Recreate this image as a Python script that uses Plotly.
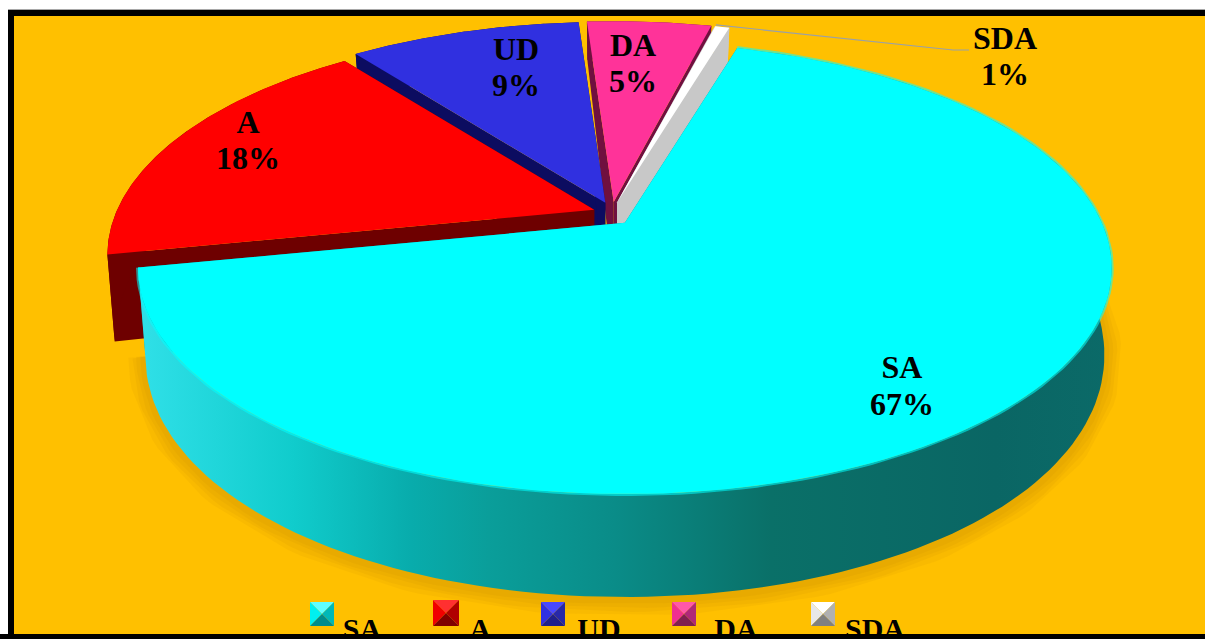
import numpy as np
import plotly.graph_objects as go

categories = ["SA", "A", "UD", "DA", "SDA"]
# slice sizes, the labels show them rounded
shares = [67.3, 17.8, 9.3, 5.0, 0.6]
pct_labels = ["67%", "18%", "9%", "5%", "1%"]
top_colors = ["#00FFFF", "#FF0000", "#3030E0", "#FF3399", "#FFFFFF"]
wall_colors = ["#0B8A8A", "#6E0000", "#0C0C60", "#70103F", "#C8C8C8"]
key_top = ["#60FFFF", "#FF3030", "#4848FF", "#FF58A8", "#FFFFFF"]
key_left = ["#00F0F0", "#F00000", "#3030E0", "#F03090", "#E8E8E8"]
key_right = ["#00B8B8", "#B00000", "#2828A8", "#B02878", "#B0B0B0"]
key_bottom = ["#008C8C", "#800000", "#20208A", "#802050", "#808080"]

# pie geometry, in page pixels
START = 16.3
BASE_X, BASE_Y = 612, 214
RX, RY, PERSP = 477, 217, 0.2
EXPLODE_X, EXPLODE_Y = 19, 12
BOTTOM_SCALE = 0.985
BG = "#FFC000"

angles = np.cumsum([0] + [p * 3.6 for p in shares]) + START


def apex(i):
    mid = np.radians((angles[i] + angles[i + 1]) / 2)
    return BASE_X + EXPLODE_X * np.sin(mid), BASE_Y - EXPLODE_Y * np.cos(mid)


def wall_h(v):
    return 80.9 - 32.5 * v - 10.4 * v * v


def top_pt(i, ang, r=1.0):
    ax, ay = apex(i)
    a = np.radians(ang)
    u, v = r * np.sin(a), r * np.cos(a)
    w = 1 + PERSP * v
    return ax + RX * u / w, ay - RY * v / w


def bot_pt(i, ang, r=1.0):
    ax, ay = apex(i)
    x, y = top_pt(i, ang, r)
    v = r * np.cos(np.radians(ang))
    return ax + BOTTOM_SCALE * (x - ax), y + wall_h(v)


def poly(fig, xs, ys, color, **kw):
    fig.add_trace(go.Scatter(x=xs, y=ys, mode="lines", fill="toself", fillcolor=color,
                             line=dict(width=0), hoverinfo="skip", showlegend=False, **kw))


def arc(i, fn):
    t = np.linspace(angles[i], angles[i + 1], 160)
    pts = [fn(i, a) for a in t]
    return [p[0] for p in pts], [p[1] for p in pts]


fig = go.Figure()

# drop shadow under the big slice
sx, sy = arc(0, bot_pt)
for width in [34, 26, 18, 10]:
    fig.add_trace(go.Scatter(x=sx, y=[y + 2 for y in sy], mode="lines",
                             line=dict(color="rgba(170,110,0,0.07)", width=width),
                             hoverinfo="skip", showlegend=False))

# back to front
for i in [3, 4, 2, 1, 0]:
    ax, ay = apex(i)
    tx, ty = arc(i, top_pt)
    bx, by = arc(i, bot_pt)
    for ang in [angles[i], angles[i + 1]]:
        ox, oy = top_pt(i, ang)
        px, py = bot_pt(i, ang)
        poly(fig, [ax, ox, px, ax, ax], [ay, oy, py, ay + wall_h(0), ay], wall_colors[i])
    if i == 0:
        fig.add_trace(go.Scatter(x=tx + bx[::-1], y=ty + by[::-1], mode="lines", fill="toself",
                                 fillgradient=dict(type="horizontal", colorscale=[
                                     [0, "#30E0E8"], [0.16, "#10CCCC"], [0.28, "#08ACAC"],
                                     [0.36, "#0A9E9A"], [0.49, "#0A8C88"], [0.65, "#0A7068"],
                                     [0.88, "#0A6664"], [1, "#0B6A68"]]),
                                 line=dict(width=0), hoverinfo="skip", showlegend=False))
    else:
        poly(fig, tx + bx[::-1], ty + by[::-1], wall_colors[i])
    poly(fig, [ax] + tx + [ax], [ay] + ty + [ay], top_colors[i])
    if i == 0:
        fig.add_trace(go.Scatter(x=tx, y=ty, mode="lines",
                                 line=dict(color="rgba(0,255,255,0.55)", width=4),
                                 hoverinfo="skip", showlegend=False))

# leader line of the small slice
lx, ly = top_pt(4, (angles[4] + angles[5]) / 2)
fig.add_trace(go.Scatter(x=[lx - 6, 953, 969], y=[ly - 2, 50, 50], mode="lines",
                         line=dict(color="#9AA0A8", width=1.2),
                         hoverinfo="skip", showlegend=False))

# data labels, one trace for names and one for percentages
label_x = [902, 248, 516, 633, 1005]
name_y = [370, 125, 52, 48, 41]
pct_y = [407, 161, 88, 84, 77]
font = dict(family="Liberation Serif", size=32, color="black")
fig.add_trace(go.Scatter(x=label_x, y=name_y, mode="text", text=[f"<b>{c}</b>" for c in categories],
                         textposition="middle center", textfont=font,
                         hoverinfo="skip", showlegend=False))
fig.add_trace(go.Scatter(x=label_x, y=pct_y, mode="text", text=[f"<b>{p}</b>" for p in pct_labels],
                         textposition="middle center", textfont=font,
                         hoverinfo="skip", showlegend=False))

# legend keys with a bevel, the text runs off the bottom of the frame
key_x = [322, 446, 553, 684, 823]
key_y = [614, 613, 614, 614, 614]
text_x = [362, 480, 599, 736, 875]
KEY = 12
for i in range(len(categories)):
    cx, cy = key_x[i], key_y[i]
    k = KEY + (1 if i == 1 else 0)
    poly(fig, [cx - k, cx + k, cx, cx - k], [cy - k, cy - k, cy, cy - k], key_top[i])
    poly(fig, [cx - k, cx - k, cx, cx - k], [cy - k, cy + k, cy, cy - k], key_left[i])
    poly(fig, [cx + k, cx + k, cx, cx + k], [cy - k, cy + k, cy, cy - k], key_right[i])
    poly(fig, [cx - k, cx + k, cx, cx - k], [cy + k, cy + k, cy, cy + k], key_bottom[i])
fig.add_trace(go.Scatter(x=text_x, y=[631] * 5, mode="text", text=[f"<b>{c}</b>" for c in categories],
                         textposition="middle center",
                         textfont=dict(family="Liberation Serif", size=30, color="black"),
                         hoverinfo="skip", showlegend=False))

fig.update_layout(
    width=1205, height=639,
    margin=dict(l=0, r=0, t=0, b=5),
    paper_bgcolor="black", plot_bgcolor="white",
    showlegend=False,
    shapes=[
        dict(type="rect", xref="x", yref="y", x0=8, x1=1206, y0=9, y1=640, layer="below",
             fillcolor="#A8A8A8", line=dict(width=0)),
        dict(type="rect", xref="x", yref="y", x0=8, x1=1206, y0=10, y1=640, layer="below",
             fillcolor="black", line=dict(width=0)),
        dict(type="rect", xref="x", yref="y", x0=14, x1=1206, y0=16, y1=640, layer="below",
             fillcolor=BG, line=dict(width=0)),
    ],
)
fig.update_xaxes(range=[0, 1205], visible=False)
fig.update_yaxes(range=[634, 0], visible=False)

# drop the page margin so the picture sits at the window corner
fig.write_html("out.html", config={"displayModeBar": False},
               post_script="document.body.style.margin='0';")
